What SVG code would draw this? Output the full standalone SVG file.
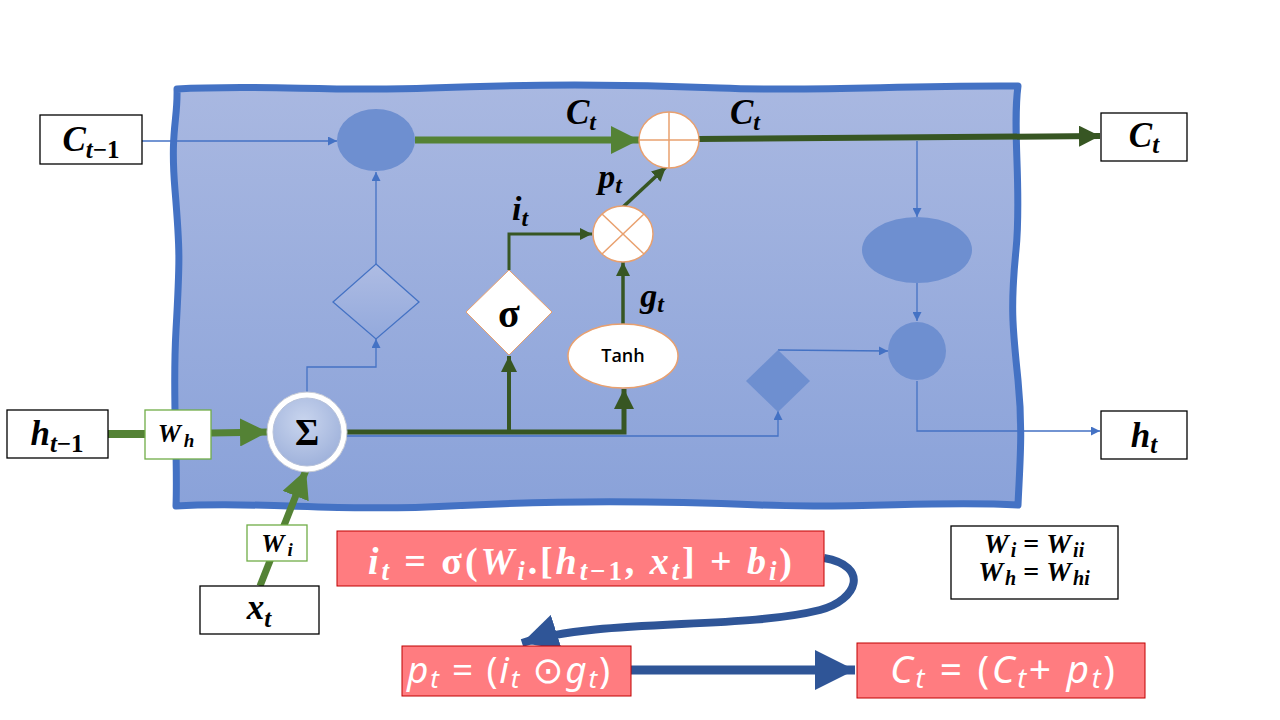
<svg xmlns="http://www.w3.org/2000/svg" width="1280" height="720" viewBox="0 0 1280 720">
<defs>
<linearGradient id="bg" x1="0" y1="0" x2="0" y2="1">
<stop offset="0" stop-color="#A9B8E1"/>
<stop offset="1" stop-color="#8AA2D9"/>
</linearGradient>
<linearGradient id="dg" x1="0" y1="0" x2="0" y2="1">
<stop offset="0" stop-color="#AEBCE3"/>
<stop offset="1" stop-color="#93A9DC"/>
</linearGradient>
<radialGradient id="sg" cx="0.45" cy="0.35" r="0.7">
<stop offset="0" stop-color="#C9D5EE"/>
<stop offset="1" stop-color="#9DB0DA"/>
</radialGradient>
<marker id="ab" viewBox="0 0 10 10" refX="10" refY="5" markerWidth="9" markerHeight="9" markerUnits="userSpaceOnUse" orient="auto">
<path d="M0,0 L10,5 L0,10 Z" fill="#4472C4"/>
</marker>
<marker id="ag" viewBox="0 0 10 10" refX="10" refY="5" markerWidth="4" markerHeight="4" orient="auto">
<path d="M0,0 L10,5 L0,10 Z" fill="#548235"/>
</marker>
<marker id="ad" viewBox="0 0 10 10" refX="10" refY="5" markerWidth="4" markerHeight="4" orient="auto">
<path d="M0,0 L10,5 L0,10 Z" fill="#375623"/>
</marker>
<marker id="ad2" viewBox="0 0 10 10" refX="10" refY="5" markerWidth="3.5" markerHeight="3.5" orient="auto">
<path d="M0,0 L10,5 L0,10 Z" fill="#375623"/>
</marker>
<marker id="anb" viewBox="0 0 10 10" refX="10" refY="5" markerWidth="4.5" markerHeight="4.5" orient="auto">
<path d="M0,0 L10,5 L0,10 Z" fill="#2F5597"/>
</marker>
</defs>
<style>
.m{font-family:"Liberation Serif","DejaVu Serif",serif;font-weight:bold;font-style:italic;fill:#000}
.u{font-style:normal}
.box{fill:#fff;stroke:#000;stroke-width:1.3}
.wb{fill:#fff;stroke:#70AD47;stroke-width:1.3}
.thin{fill:none;stroke:#4472C4;stroke-width:1.3}
.inact{fill:#6E8FD0}
.op{fill:#fff;stroke:#E9A06E;stroke-width:1.5}
.eq{fill:#FF7C80;stroke:#C00000;stroke-width:1}
.et{font-family:"Liberation Serif","DejaVu Serif",serif;font-weight:bold;fill:#fff}
.ec{font-family:"Noto Sans","DejaVu Sans",sans-serif;fill:#fff}
</style>
<rect width="1280" height="720" fill="#fff"/>

<g id="cell">
<path d="M177,89 C260,84 330,92 430,88 S620,84 720,88 S900,85 1018,86 C1012,130 1022,190 1016,250 S1013,330 1018,380 S1020,460 1018,505 C940,500 860,509 760,505 S560,500 450,506 S260,501 176,506 C178,450 172,400 176,330 S180,250 175,190 S178,120 177,89 Z" fill="url(#bg)" stroke="#4472C4" stroke-width="7" stroke-linejoin="round"/>
</g>

<g id="connectors">
<line x1="142" y1="141" x2="337" y2="141" class="thin" marker-end="url(#ab)"/>
<line x1="376" y1="264" x2="376" y2="172" class="thin" marker-end="url(#ab)"/>
<polyline points="307,393 307,367 376,367 376,339" class="thin" marker-end="url(#ab)"/>
<polyline points="345,436 778,436 778,411" class="thin" marker-end="url(#ab)"/>
<polyline points="778,350 888,351" class="thin" marker-end="url(#ab)"/>
<line x1="917" y1="141" x2="917" y2="217" class="thin" marker-end="url(#ab)"/>
<line x1="917" y1="283" x2="917" y2="321" class="thin" marker-end="url(#ab)"/>
<polyline points="917,381 917,431 1100,431" class="thin" marker-end="url(#ab)"/>
<line x1="108" y1="434" x2="145" y2="434" stroke="#548235" stroke-width="8"/>
<line x1="211" y1="433" x2="268" y2="432" stroke="#548235" stroke-width="7" marker-end="url(#ag)"/>
<line x1="260" y1="586" x2="306" y2="470" stroke="#548235" stroke-width="7" marker-end="url(#ag)"/>
<line x1="415" y1="140" x2="639" y2="140" stroke="#548235" stroke-width="7" marker-end="url(#ag)"/>
<line x1="698" y1="139" x2="1100" y2="136" stroke="#375623" stroke-width="6" marker-end="url(#ad2)"/>
<polyline points="345,432 624,432 624,389" fill="none" stroke="#375623" stroke-width="5" marker-end="url(#ad)"/>
<line x1="509" y1="432" x2="509" y2="356" stroke="#375623" stroke-width="4" marker-end="url(#ad)"/>
<polyline points="509,270 509,234 592,234" fill="none" stroke="#375623" stroke-width="3" marker-end="url(#ad)"/>
<line x1="623" y1="324" x2="623" y2="262" stroke="#375623" stroke-width="3.5" marker-end="url(#ad)"/>
<line x1="623" y1="207" x2="666" y2="167" stroke="#375623" stroke-width="3.5" marker-end="url(#ad)"/>
<path d="M824,558 C870,566 858,600 820,610 C740,630 600,618 522,643" fill="none" stroke="#2F5597" stroke-width="8" marker-end="url(#anb)"/>
<line x1="631" y1="670" x2="855" y2="670" stroke="#2F5597" stroke-width="9" marker-end="url(#anb)"/>
</g>

<g id="inactive-nodes">
<ellipse id="forget-op" cx="376" cy="140" rx="39" ry="31" class="inact"/>
<polygon id="forget-gate" points="376,264 419,302 376,339 333,302" fill="url(#dg)" stroke="#4472C4" stroke-width="1.3"/>
<ellipse id="tanh-out" cx="917" cy="250" rx="55" ry="33" class="inact"/>
<polygon id="out-gate" points="778,350 810,381 778,412 746,381" class="inact"/>
<circle id="out-op" cx="917" cy="351" r="29" class="inact"/>
</g>

<g id="plus">
<ellipse cx="669" cy="140" rx="30" ry="28" class="op"/>
<line x1="639" y1="140" x2="699" y2="140" stroke="#E9A06E" stroke-width="1.5"/>
<line x1="669" y1="112" x2="669" y2="168" stroke="#E9A06E" stroke-width="1.5"/>
</g>
<g id="times">
<ellipse cx="623" cy="234" rx="30" ry="28" class="op"/>
<line x1="602" y1="214" x2="644" y2="254" stroke="#E9A06E" stroke-width="1.5"/>
<line x1="644" y1="214" x2="602" y2="254" stroke="#E9A06E" stroke-width="1.5"/>
</g>
<g id="sigma-gate">
<polygon points="509,270 552,312 509,355 466,312" fill="#fff" stroke="#E9A06E" stroke-width="1"/>
<text x="509" y="327" text-anchor="middle" class="m u" font-size="40">σ</text>
</g>
<g id="tanh">
<ellipse cx="623" cy="356" rx="55" ry="32" class="op"/>
<text x="623" y="362" text-anchor="middle" font-family="'Open Sans','Noto Sans',sans-serif" font-weight="600" font-size="18">Tanh</text>
</g>
<g id="sum">
<circle cx="307" cy="432" r="40" fill="#fff" stroke="#C8CCD6" stroke-width="1"/>
<circle cx="307" cy="432" r="34" fill="url(#sg)" stroke="#B7C2DA" stroke-width="1"/>
<text x="307" y="445" text-anchor="middle" class="m u" font-size="37">Σ</text>
</g>

<g id="labels">
<text x="581" y="124" text-anchor="middle" class="m" font-size="35">C<tspan dy="6" font-size="24">t</tspan></text>
<text x="745" y="124" text-anchor="middle" class="m" font-size="35">C<tspan dy="6" font-size="24">t</tspan></text>
<text x="610" y="188" text-anchor="middle" class="m" font-size="34">p<tspan dy="5" font-size="24">t</tspan></text>
<text x="520" y="220" text-anchor="middle" class="m" font-size="34">i<tspan dy="6" font-size="24">t</tspan></text>
<text x="652" y="307" text-anchor="middle" class="m" font-size="34">g<tspan dy="5" font-size="24">t</tspan></text>
</g>

<g id="c-prev"><rect x="40" y="115" width="102" height="49" class="box"/>
<text x="91" y="151" text-anchor="middle" class="m" font-size="35">C<tspan dy="7" font-size="25">t</tspan><tspan font-size="25" class="u">−1</tspan></text></g>
<g id="c-out"><rect x="1101" y="113" width="86" height="48" class="box"/>
<text x="1144" y="147" text-anchor="middle" class="m" font-size="35">C<tspan dy="6" font-size="25">t</tspan></text></g>
<g id="h-prev"><rect x="7" y="410" width="101" height="48" class="box"/>
<text x="57" y="445" text-anchor="middle" class="m" font-size="35">h<tspan dy="7" font-size="25">t</tspan><tspan font-size="25" class="u">−1</tspan></text></g>
<g id="h-out"><rect x="1101" y="411" width="86" height="48" class="box"/>
<text x="1144" y="447" text-anchor="middle" class="m" font-size="35">h<tspan dy="6" font-size="25">t</tspan></text></g>
<g id="x-in"><rect x="200" y="586" width="119" height="48" class="box"/>
<text x="259" y="619" text-anchor="middle" class="m" font-size="35">x<tspan dy="8" font-size="25">t</tspan></text></g>
<g id="wh"><rect x="145" y="410" width="66" height="49" class="wb"/>
<text x="176" y="442" text-anchor="middle" class="m" font-size="26">W<tspan dx="3" dy="5" font-size="19">h</tspan></text></g>
<g id="wi"><rect x="247" y="525" width="60" height="36" class="wb"/>
<text x="277" y="552" text-anchor="middle" class="m" font-size="26">W<tspan dx="3" dy="4" font-size="19">i</tspan></text></g>

<g id="eq1"><rect x="337" y="531" width="487" height="55" class="eq"/>
<text x="368" y="574" class="et" font-size="38" textLength="424" lengthAdjust="spacing"><tspan font-style="italic">i</tspan><tspan dy="6" font-size="27" font-style="italic">t</tspan><tspan dy="-6">  = σ(</tspan><tspan font-style="italic">W</tspan><tspan dy="6" font-size="27" font-style="italic">i</tspan><tspan dy="-6">.[</tspan><tspan font-style="italic">h</tspan><tspan dy="6" font-size="27" font-style="italic">t</tspan><tspan font-size="27">−1</tspan><tspan dy="-6">, </tspan><tspan font-style="italic">x</tspan><tspan dy="6" font-size="27" font-style="italic">t</tspan><tspan dy="-6">] + </tspan><tspan font-style="italic">b</tspan><tspan dy="6" font-size="27" font-style="italic">i</tspan><tspan dy="-6">)</tspan></text></g>

<g id="eq2"><rect x="402" y="646" width="229" height="50" class="eq"/>
<text x="407" y="683" class="ec" font-size="37" textLength="203" lengthAdjust="spacing"><tspan font-style="italic">p</tspan><tspan dy="5" font-size="26" font-style="italic">t</tspan><tspan dy="-5"> = (</tspan><tspan font-style="italic">i</tspan><tspan dy="5" font-size="26" font-style="italic">t</tspan><tspan dy="-5"> ⊙</tspan><tspan font-style="italic">g</tspan><tspan dy="5" font-size="26" font-style="italic">t</tspan><tspan dy="-5">)</tspan></text></g>

<g id="eq3"><rect x="857" y="643" width="288" height="55" class="eq"/>
<text x="890" y="683" class="ec" font-size="39" textLength="225" lengthAdjust="spacing"><tspan font-style="italic">C</tspan><tspan dy="5" font-size="27" font-style="italic">t</tspan><tspan dy="-5"> = (</tspan><tspan font-style="italic">C</tspan><tspan dy="5" font-size="27" font-style="italic">t</tspan><tspan dy="-5">+ </tspan><tspan font-style="italic">p</tspan><tspan dy="5" font-size="27" font-style="italic">t</tspan><tspan dy="-5">)</tspan></text></g>

<g id="w-note"><rect x="951" y="526" width="167" height="73" class="box"/>
<text x="1034" y="553" text-anchor="middle" class="m" font-size="28">W<tspan dx="2" dy="4" font-size="20">i</tspan><tspan dy="-4" class="u"> = </tspan>W<tspan dx="2" dy="4" font-size="20">ii</tspan></text>
<text x="1034" y="581" text-anchor="middle" class="m" font-size="28">W<tspan dx="2" dy="4" font-size="20">h</tspan><tspan dy="-4" class="u"> = </tspan>W<tspan dx="2" dy="4" font-size="20">hi</tspan></text></g>
</svg>
